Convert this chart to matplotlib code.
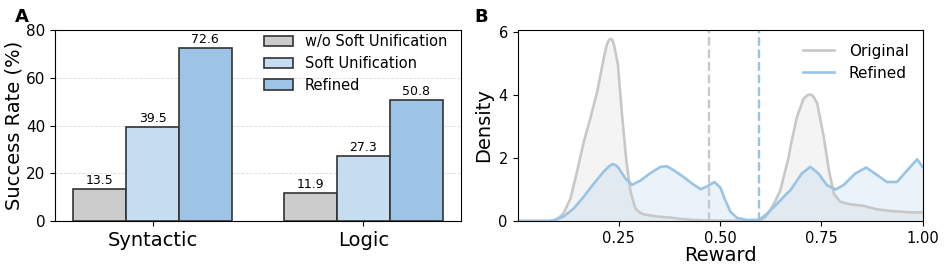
import matplotlib
matplotlib.use("Agg")
import matplotlib.pyplot as plt
import numpy as np

# ---------------- Data ----------------
categories = ["Syntactic", "Logic"]
series_names = ["w/o Soft Unification", "Soft Unification", "Refined"]
wo_soft = [13.5, 11.9]
soft = [39.5, 27.3]
refined = [72.6, 50.8]

# Panel B: density curves
orig_x = [0.0, 0.05, 0.08, 0.09, 0.10, 0.114, 0.131, 0.147, 0.164, 0.180, 0.197, 0.213,
          0.221, 0.226, 0.231, 0.235, 0.239, 0.248, 0.258, 0.269, 0.279, 0.291, 0.302,
          0.312, 0.345, 0.378, 0.40, 0.43, 0.46, 0.50, 0.55, 0.60, 0.612, 0.624, 0.636,
          0.649, 0.669, 0.674, 0.690, 0.706, 0.716, 0.723, 0.730, 0.740, 0.756, 0.769,
          0.781, 0.797, 0.822, 0.855, 0.888, 0.92, 0.953, 0.974, 1.0]
orig_y = [0.0, 0.0, 0.0, 0.03, 0.08, 0.25, 0.72, 1.57, 2.53, 3.27, 4.12, 5.18,
          5.62, 5.76, 5.79, 5.74, 5.55, 4.97, 3.38, 1.89, 0.94, 0.40, 0.27,
          0.21, 0.14, 0.11, 0.07, 0.04, 0.02, 0.01, 0.01, 0.02, 0.12, 0.34, 0.62,
          0.98, 2.0, 2.36, 3.31, 3.88, 4.0, 4.02, 3.97, 3.74, 2.68, 1.61,
          0.87, 0.61, 0.53, 0.48, 0.37, 0.32, 0.29, 0.27, 0.28]

ref_x = [0.0, 0.05, 0.08, 0.09, 0.114, 0.139, 0.164, 0.189, 0.213, 0.226, 0.235, 0.243,
         0.250, 0.266, 0.283, 0.303, 0.328, 0.353, 0.369, 0.386, 0.41, 0.431, 0.452,
         0.468, 0.486, 0.501, 0.513, 0.526, 0.542, 0.567, 0.597, 0.616, 0.641, 0.665,
         0.674, 0.702, 0.723, 0.743, 0.764, 0.785, 0.805, 0.834, 0.861, 0.888, 0.912,
         0.937, 0.962, 0.987, 1.0]
ref_y = [0.0, 0.0, 0.0, 0.02, 0.14, 0.40, 0.78, 1.2, 1.57, 1.74, 1.81, 1.77,
         1.68, 1.36, 1.15, 1.28, 1.52, 1.72, 1.74, 1.61, 1.40, 1.19, 1.01,
         1.10, 1.24, 1.06, 0.66, 0.29, 0.10, 0.03, 0.04, 0.23, 0.55, 0.87,
         0.98, 1.51, 1.72, 1.51, 1.14, 1.0, 1.14, 1.51, 1.70, 1.46, 1.24,
         1.24, 1.61, 1.96, 1.72]

orig_mean = 0.474
ref_mean = 0.597

# ---------------- Style ----------------
plt.rcParams['font.family'] = ['DejaVu Sans']
bar_colors = ["#cccccc", "#c6dcf0", "#9dc3e6"]
edge = "#333333"
gray_line = "#c8c8c8"
blue_line = "#9bc3e6"

fig = plt.figure(figsize=(9.46, 2.72), dpi=100)
axA = fig.add_axes([55/946, 51/272, 406/946, 191/272])
axB = fig.add_axes([517.5/946, 51/272, 405/946, 191/272])

# ---------------- Panel A ----------------
x = np.arange(len(categories))
w = 0.25
for i, (vals, name) in enumerate(zip([wo_soft, soft, refined], series_names)):
    bars = axA.bar(x + (i - 1) * w, vals, w, color=bar_colors[i], edgecolor=edge,
                   linewidth=1.2, label=name, zorder=3)
    axA.bar_label(bars, labels=[f"{v:.1f}" for v in vals], padding=1.5, fontsize=9)
axA.set_ylim(0, 80)
axA.set_yticks([0, 20, 40, 60, 80])
axA.set_xticks(x)
axA.set_xticklabels(categories, fontsize=14)
axA.tick_params(axis='y', labelsize=11)
axA.set_ylabel("Success Rate (%)", fontsize=14, labelpad=2)
axA.yaxis.grid(True, linestyle='--', color='#dddddd', linewidth=0.6, zorder=0)
axA.set_axisbelow(True)
axA.legend(loc='upper right', bbox_to_anchor=(0.977, 1.0), fontsize=10.5, frameon=False,
           handlelength=2.0, borderaxespad=0.0, borderpad=0.3, labelspacing=0.45,
           handletextpad=0.8)
fig.text(15/946, 1 - 17/272, "A", fontsize=13, fontweight='bold', va='center')

# ---------------- Panel B ----------------
axB.fill_between(orig_x, orig_y, color=gray_line, alpha=0.2, linewidth=0)
axB.plot(orig_x, orig_y, color=gray_line, linewidth=1.9, label="Original")
axB.fill_between(ref_x, ref_y, color=blue_line, alpha=0.2, linewidth=0)
axB.plot(ref_x, ref_y, color=blue_line, linewidth=1.9, label="Refined")
axB.axvline(orig_mean, color=gray_line, linestyle='--', linewidth=1.7)
axB.axvline(ref_mean, color=blue_line, linestyle='--', linewidth=1.7)
axB.set_xlim(0.0, 1.0)
axB.set_ylim(0, 6.07)
axB.set_xticks([0.25, 0.5, 0.75, 1.0])
axB.set_xticklabels(["0.25", "0.50", "0.75", "1.00"])
axB.set_yticks([0, 2, 4, 6])
axB.tick_params(axis='both', labelsize=10.5)
axB.set_xlabel("Reward", fontsize=14, labelpad=0)
axB.set_ylabel("Density", fontsize=14)
axB.legend(loc='upper right', fontsize=11, frameon=False, borderaxespad=0.5,
           labelspacing=0.45, handletextpad=1.0)
fig.text(474/946, 1 - 17/272, "B", fontsize=13, fontweight='bold', va='center')

fig.savefig("out.png", dpi=100)
